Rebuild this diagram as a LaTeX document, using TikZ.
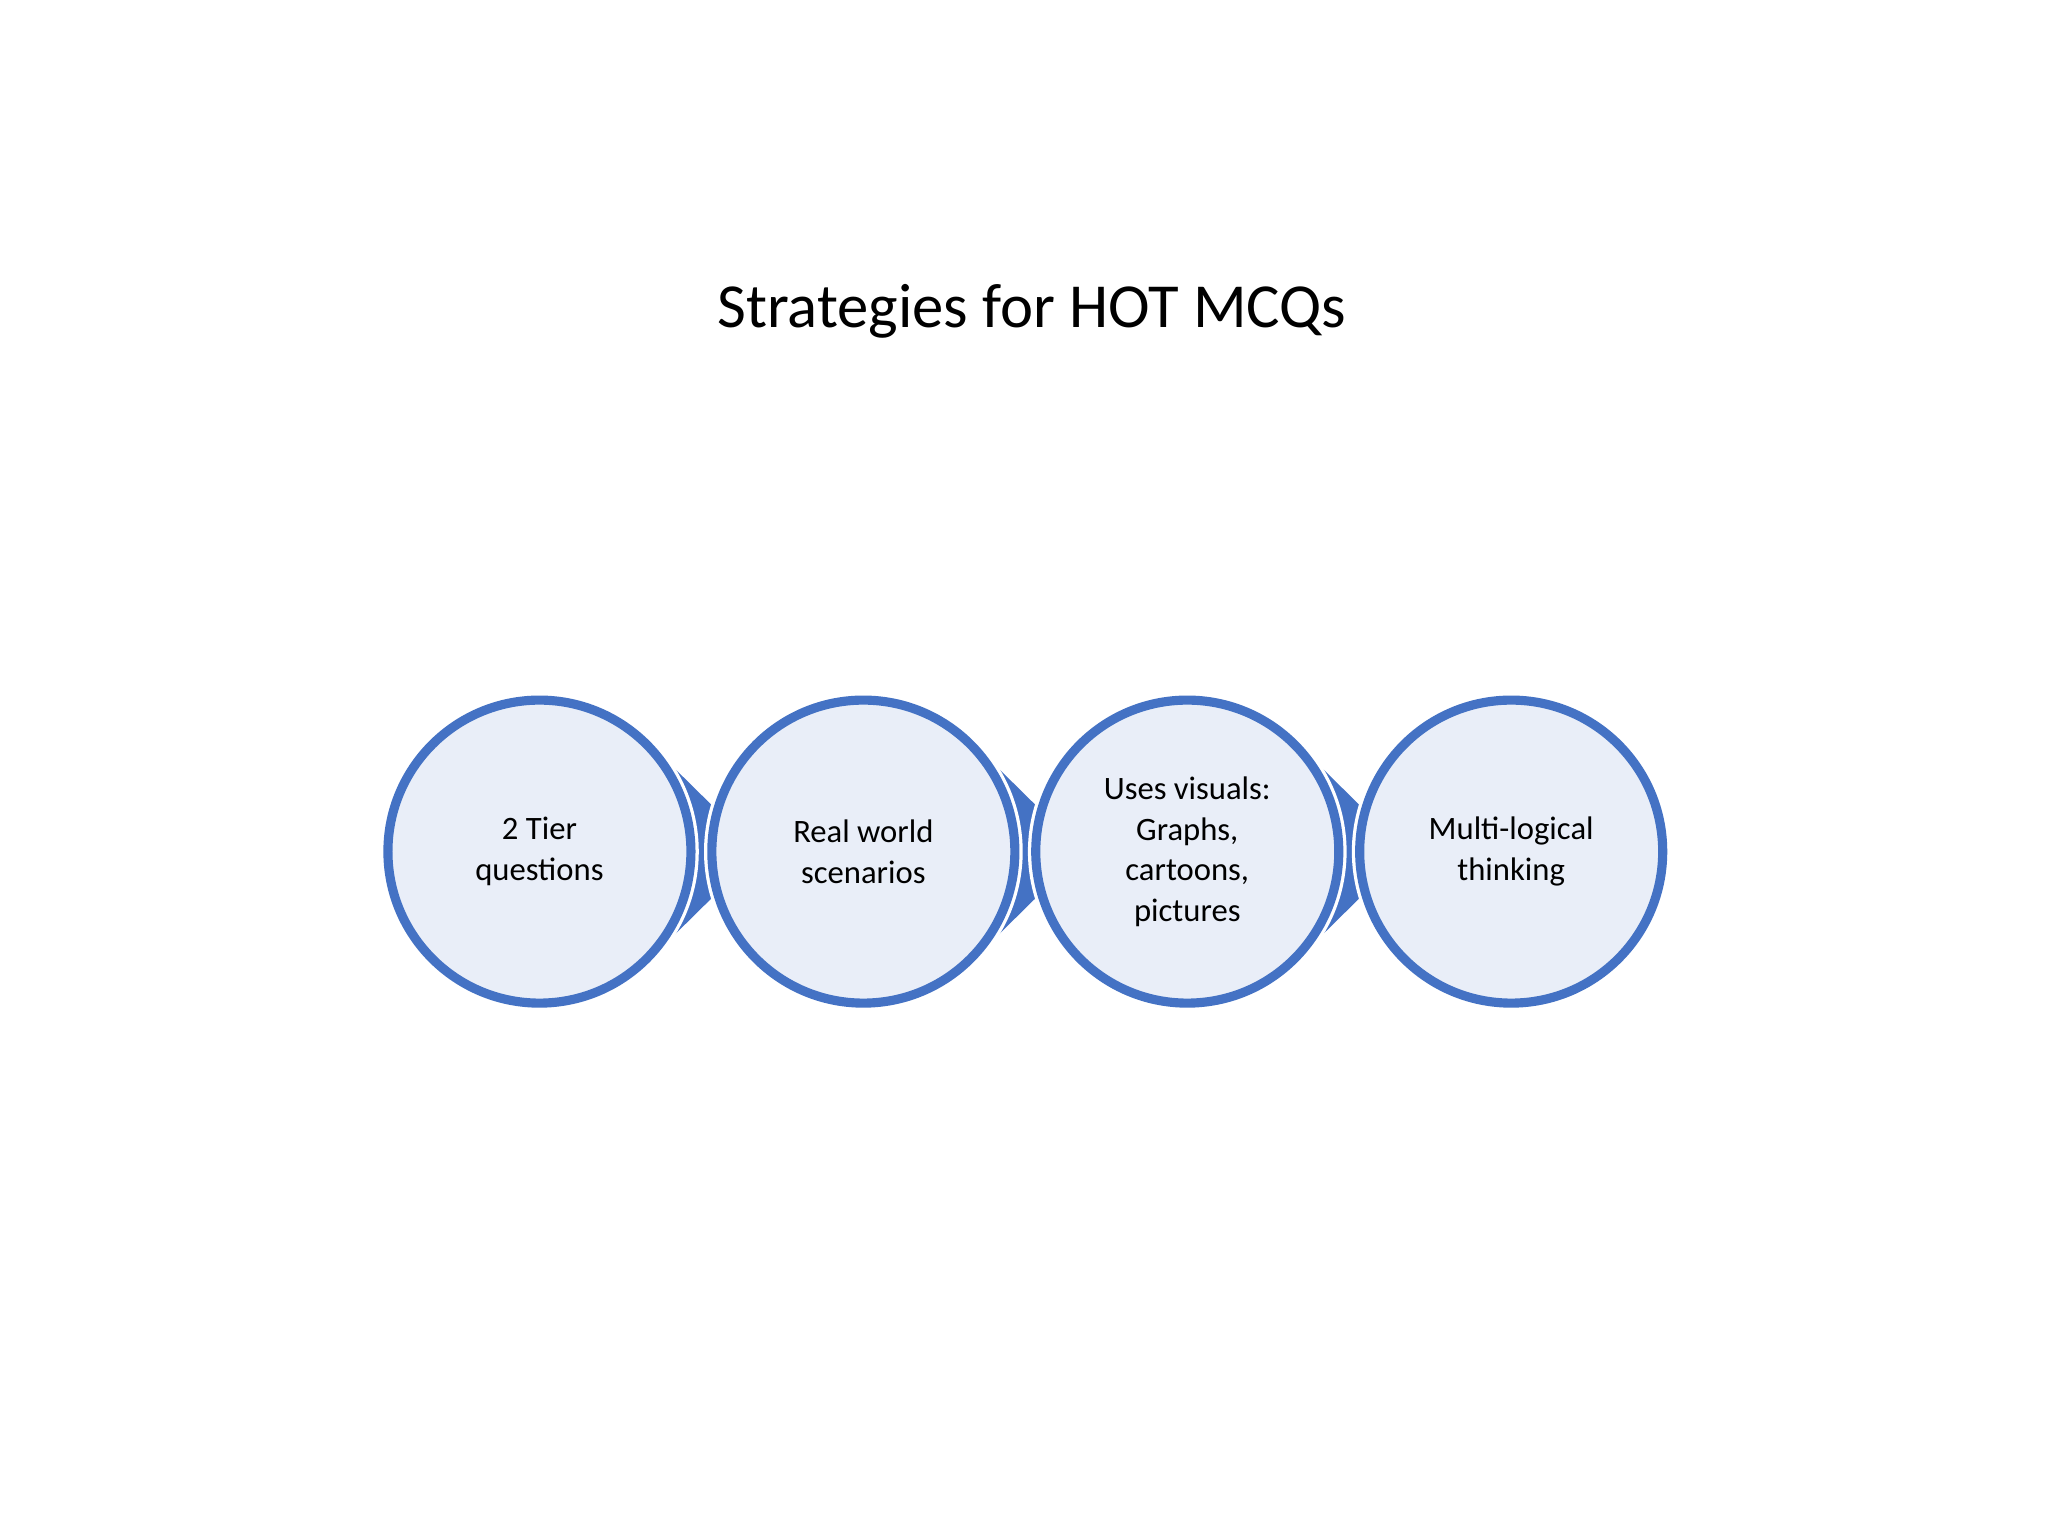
\documentclass[tikz,border=0pt]{standalone}
\usepackage{fontspec}
\usetikzlibrary{calc}
\setmainfont{Carlito}
\definecolor{bl}{HTML}{4472C4}
\definecolor{lt}{HTML}{E9EEF8}
\tikzset{lbl/.style={align=center,font=\fontsize{25}{31}\selectfont,text=black},
 ring/.style={fill=lt,draw=bl,line width=7pt}}
\begin{document}
\begin{tikzpicture}[x=1pt,y=-1pt]
\useasboundingbox (0,0) rectangle (1568,1176);
\node (t) at (790,238) {\fontsize{48}{56}\selectfont Strategies for HOT MCQs};
\foreach \i/\x in {1/413,2/661,3/909,4/1157}{
  \ifnum\i<4
   \fill[bl] ($(\x,652)+(46:118)$) -- (\x+168,652) -- ($(\x,652)+(-46:118)$) -- (\x,652) -- cycle;
  \fi
  \draw[white,line width=12pt] (\x,652) circle (116);
  \draw[ring] (\x,652) circle (116);
}
\node[lbl] (a) at (413,652) {2 Tier\\questions};
\node[lbl] (b) at (661,652) {Real world\\scenarios};
\node[lbl] (c) at (909,652) {Uses visuals:\\Graphs,\\cartoons,\\pictures};
\node[lbl] (d) at (1157,652) {Multi-logical\\thinking};
\end{tikzpicture}
\end{document}
